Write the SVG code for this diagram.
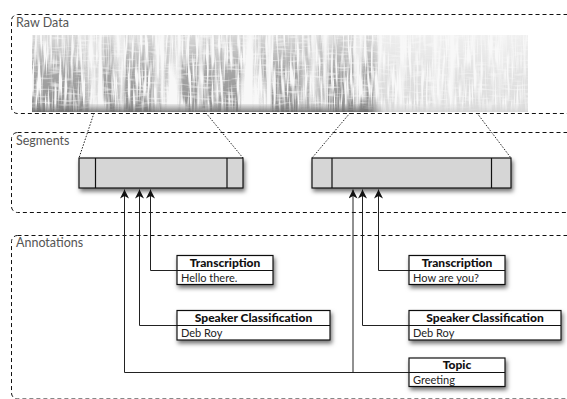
<svg xmlns="http://www.w3.org/2000/svg" width="567" height="399" viewBox="0 0 567 399">
<defs>
<style>
.frame{fill:none;stroke:#111;stroke-width:1;stroke-dasharray:4 3}
.flabel{font-family:Lato,"Open Sans","DejaVu Sans",sans-serif;font-size:12.5px;fill:#555}
.seg{fill:#d6d6d6;stroke:#111;stroke-width:1.2}
.div{stroke:#111;stroke-width:1.2}
.box{fill:#fff;stroke:#111;stroke-width:1.2}
.hd{font-family:Lato,"Open Sans","DejaVu Sans",sans-serif;font-size:12px;font-weight:900;fill:#111;text-anchor:middle}
.bd{font-family:Lato,"Open Sans","DejaVu Sans",sans-serif;font-size:11px;fill:#222}
.dot{fill:none;stroke:#222;stroke-width:1;stroke-dasharray:1.5 1.5}
.con{fill:none;stroke:#222;stroke-width:1;marker-end:url(#arr)}
</style>
<marker id="arr" markerWidth="12" markerHeight="12" refX="9" refY="4.5" orient="auto" markerUnits="userSpaceOnUse">
<path d="M0,0 L9,4.5 L0,9 L2.5,4.5 z" fill="#111"/>
</marker>
<filter id="sh" x="-20%" y="-40%" width="140%" height="200%">
<feDropShadow dx="1.5" dy="3" stdDeviation="2.2" flood-color="#000" flood-opacity="0.55"/>
</filter>
<filter id="spec" x="0" y="0" width="1" height="1">
<feTurbulence type="fractalNoise" baseFrequency="0.42 0.03" numOctaves="2" seed="7" result="n1"/>
<feTurbulence type="fractalNoise" baseFrequency="0.08 0.45" numOctaves="1" seed="3" result="n2"/>
<feTurbulence type="fractalNoise" baseFrequency="0.09 0.004" numOctaves="2" seed="11" result="n3"/>
<feColorMatrix in="n1" type="matrix" values="0 0 0 0 0.28  0 0 0 0 0.28  0 0 0 0 0.28  4 0 0 0 -1.3" result="a1"/>
<feColorMatrix in="n2" type="matrix" values="0 0 0 0 1  0 0 0 0 1  0 0 0 0 1  2.5 0 0 0 -0.2" result="a2"/>
<feColorMatrix in="n3" type="matrix" values="0 0 0 0 1  0 0 0 0 1  0 0 0 0 1  5 0 0 0 -1.6" result="a3"/>
<feComposite in="a1" in2="a2" operator="arithmetic" k1="1" result="a12"/>
<feComposite in="a12" in2="a3" operator="arithmetic" k1="1" result="a123"/>
<feComposite in="a123" in2="SourceGraphic" operator="arithmetic" k1="1"/>
</filter>
<linearGradient id="vg" x1="0" y1="0" x2="0" y2="1">
<stop offset="0" stop-color="#fff" stop-opacity="0.3"/>
<stop offset="0.5" stop-color="#fff" stop-opacity="0.8"/>
<stop offset="1" stop-color="#fff" stop-opacity="1"/>
</linearGradient>
<linearGradient id="hg" x1="0" y1="0" x2="1" y2="0">
<stop offset="0" stop-color="#fff"/>
<stop offset="0.68" stop-color="#fff"/>
<stop offset="0.71" stop-color="#4a4a4a"/>
<stop offset="1" stop-color="#404040"/>
</linearGradient>
<linearGradient id="bb" x1="0" y1="0" x2="0" y2="1">
<stop offset="0" stop-color="#888" stop-opacity="0.15"/>
<stop offset="1" stop-color="#666" stop-opacity="0.85"/>
</linearGradient>
<mask id="hm" maskUnits="userSpaceOnUse" x="32" y="35" width="496" height="77">
<rect x="32" y="35" width="496" height="77" fill="url(#hg)"/>
</mask>
</defs>

<g id="frame-raw">
<rect class="frame" x="11.5" y="14.5" width="600" height="99" rx="6"/>
<text class="flabel" x="16" y="27">Raw Data</text>
</g>
<g id="spectrogram">
<rect x="32" y="35" width="496" height="77" fill="#f8f8f8"/>
<g mask="url(#hm)">
<rect x="32" y="35" width="496" height="77" fill="url(#vg)" filter="url(#spec)"/>
<rect x="32" y="104" width="496" height="8" fill="url(#bb)"/>
</g>
</g>

<g id="frame-segments">
<rect class="frame" x="11.5" y="132.5" width="600" height="80" rx="6"/>
<text class="flabel" x="16" y="145">Segments</text>
</g>
<g id="frame-annotations">
<rect class="frame" x="11.5" y="235.5" width="600" height="163.5" rx="6"/>
<text class="flabel" x="16" y="247">Annotations</text>
</g>

<g id="zoom-lines">
<path class="dot" d="M94,113 L79,158"/>
<path class="dot" d="M206,113 L243,158"/>
<path class="dot" d="M350,113 L312,158"/>
<path class="dot" d="M477,113 L511,158"/>
</g>

<g id="segment-1">
<rect class="seg" x="79" y="158" width="164" height="30" filter="url(#sh)"/>
<line class="div" x1="95.5" y1="158" x2="95.5" y2="188"/>
<line class="div" x1="227" y1="158" x2="227" y2="188"/>
</g>
<g id="segment-2">
<rect class="seg" x="312" y="158" width="199" height="30" filter="url(#sh)"/>
<line class="div" x1="332" y1="158" x2="332" y2="188"/>
<line class="div" x1="491.5" y1="158" x2="491.5" y2="188"/>
</g>

<g id="connectors">
<path class="con" d="M177,270.5 H150.5 V189.5"/>
<path class="con" d="M177,325.5 H139.5 V189.5"/>
<path class="con" d="M409,372.5 H124.5 V189.5"/>
<path class="con" d="M353,372.5 V189.5"/>
<path class="con" d="M409,270.5 H378.5 V189.5"/>
<path class="con" d="M409,325.5 H362.5 V189.5"/>
</g>

<g id="transcription-1">
<rect class="box" x="177" y="255.5" width="96" height="29" filter="url(#sh)"/>
<line class="div" x1="177" y1="270.5" x2="273" y2="270.5"/>
<text class="hd" x="225" y="266.5">Transcription</text>
<text class="bd" x="181" y="281.5">Hello there.</text>
</g>
<g id="speaker-1">
<rect class="box" x="177" y="310.5" width="153" height="29.5" filter="url(#sh)"/>
<line class="div" x1="177" y1="325.5" x2="330" y2="325.5"/>
<text class="hd" x="253.5" y="322">Speaker Classification</text>
<text class="bd" x="181" y="337">Deb Roy</text>
</g>
<g id="transcription-2">
<rect class="box" x="409" y="255.5" width="96" height="29" filter="url(#sh)"/>
<line class="div" x1="409" y1="270.5" x2="505" y2="270.5"/>
<text class="hd" x="457" y="266.5">Transcription</text>
<text class="bd" x="413" y="281.5">How are you?</text>
</g>
<g id="speaker-2">
<rect class="box" x="409" y="310.5" width="152" height="29.5" filter="url(#sh)"/>
<line class="div" x1="409" y1="325.5" x2="561" y2="325.5"/>
<text class="hd" x="485" y="322">Speaker Classification</text>
<text class="bd" x="413" y="337">Deb Roy</text>
</g>
<g id="topic">
<rect class="box" x="409" y="358" width="96" height="28.5" filter="url(#sh)"/>
<line class="div" x1="409" y1="372.5" x2="505" y2="372.5"/>
<text class="hd" x="457" y="369">Topic</text>
<text class="bd" x="413" y="384">Greeting</text>
</g>
</svg>
